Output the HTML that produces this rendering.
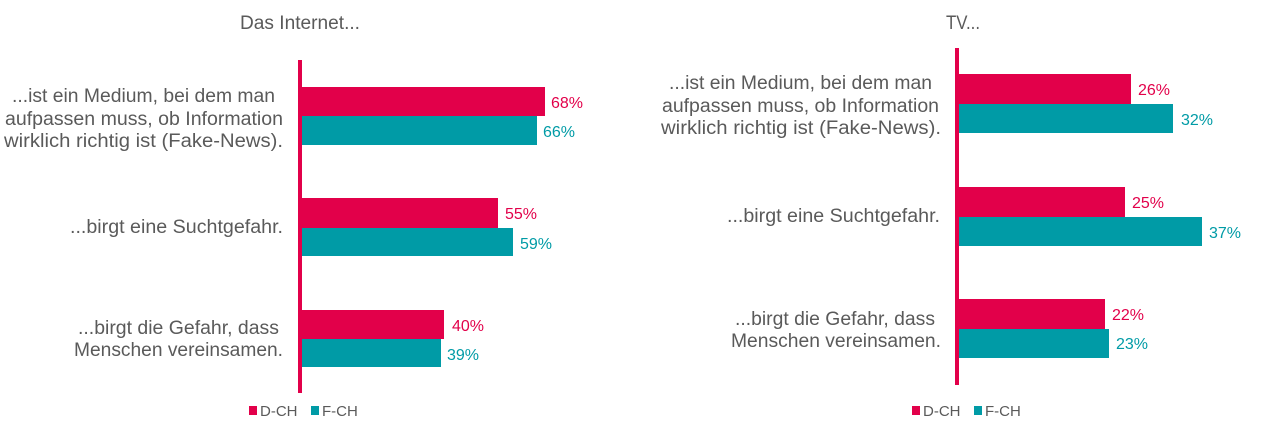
<!DOCTYPE html>
<html><head><meta charset="utf-8"><style>
body{margin:0;background:#fff;width:1280px;height:434px;overflow:hidden;font-family:"Liberation Sans",sans-serif}
</style></head><body>
<svg width="1280" height="434" xmlns="http://www.w3.org/2000/svg" font-family="Liberation Sans, sans-serif">
<g fill="#5a5a5a" font-size="19">
<text x="240" y="29" textLength="120" lengthAdjust="spacingAndGlyphs">Das Internet...</text>
<text x="946" y="29" textLength="34" lengthAdjust="spacingAndGlyphs">TV...</text>
<text x="12" y="102" textLength="263" lengthAdjust="spacingAndGlyphs">...ist ein Medium, bei dem man</text>
<text x="5" y="125" textLength="278" lengthAdjust="spacingAndGlyphs">aufpassen muss, ob Information</text>
<text x="4" y="147" textLength="279" lengthAdjust="spacingAndGlyphs">wirklich richtig ist (Fake-News).</text>
<text x="70" y="233" textLength="213" lengthAdjust="spacingAndGlyphs">...birgt eine Suchtgefahr.</text>
<text x="78" y="334" textLength="201" lengthAdjust="spacingAndGlyphs">...birgt die Gefahr, dass</text>
<text x="74" y="356" textLength="209" lengthAdjust="spacingAndGlyphs">Menschen vereinsamen.</text>
<text x="669" y="89" textLength="263" lengthAdjust="spacingAndGlyphs">...ist ein Medium, bei dem man</text>
<text x="662" y="112" textLength="277" lengthAdjust="spacingAndGlyphs">aufpassen muss, ob Information</text>
<text x="661" y="134" textLength="280" lengthAdjust="spacingAndGlyphs">wirklich richtig ist (Fake-News).</text>
<text x="727" y="222" textLength="213" lengthAdjust="spacingAndGlyphs">...birgt eine Suchtgefahr.</text>
<text x="735" y="325" textLength="200" lengthAdjust="spacingAndGlyphs">...birgt die Gefahr, dass</text>
<text x="731" y="347" textLength="210" lengthAdjust="spacingAndGlyphs">Menschen vereinsamen.</text>
</g>
<rect x="298" y="60" width="4" height="333" fill="#e2004a"/>
<rect x="955" y="48" width="4" height="337" fill="#e2004a"/>
<g fill="#e2004a">
<rect x="302" y="87" width="243" height="29"/>
<rect x="302" y="198" width="196" height="30"/>
<rect x="302" y="310" width="142" height="29"/>
<rect x="959" y="74" width="172" height="30"/>
<rect x="959" y="187" width="166" height="30"/>
<rect x="959" y="299" width="146" height="30"/>
</g>
<g fill="#009ba6">
<rect x="302" y="116" width="235" height="29"/>
<rect x="302" y="228" width="211" height="28"/>
<rect x="302" y="339" width="139" height="28"/>
<rect x="959" y="104" width="214" height="29"/>
<rect x="959" y="217" width="243" height="29"/>
<rect x="959" y="329" width="150" height="29"/>
</g>
<g font-size="16" fill="#e2004a">
<text x="551" y="108">68%</text><text x="505" y="219">55%</text><text x="452" y="331">40%</text>
<text x="1138" y="95">26%</text><text x="1132" y="208">25%</text><text x="1112" y="320">22%</text>
</g>
<g font-size="16" fill="#009ba6">
<text x="543" y="137">66%</text><text x="520" y="249">59%</text><text x="447" y="360">39%</text>
<text x="1181" y="125">32%</text><text x="1209" y="238">37%</text><text x="1116" y="349">23%</text>
</g>
<g font-size="15" fill="#5a5a5a">
<rect x="249" y="406" width="8" height="9" fill="#e2004a"/><text x="260" y="416">D-CH</text>
<rect x="311" y="406" width="8" height="9" fill="#009ba6"/><text x="322" y="416">F-CH</text>
<rect x="912" y="406" width="8" height="9" fill="#e2004a"/><text x="923" y="416">D-CH</text>
<rect x="974" y="406" width="8" height="9" fill="#009ba6"/><text x="985" y="416">F-CH</text>
</g>
</svg>
</body></html>
